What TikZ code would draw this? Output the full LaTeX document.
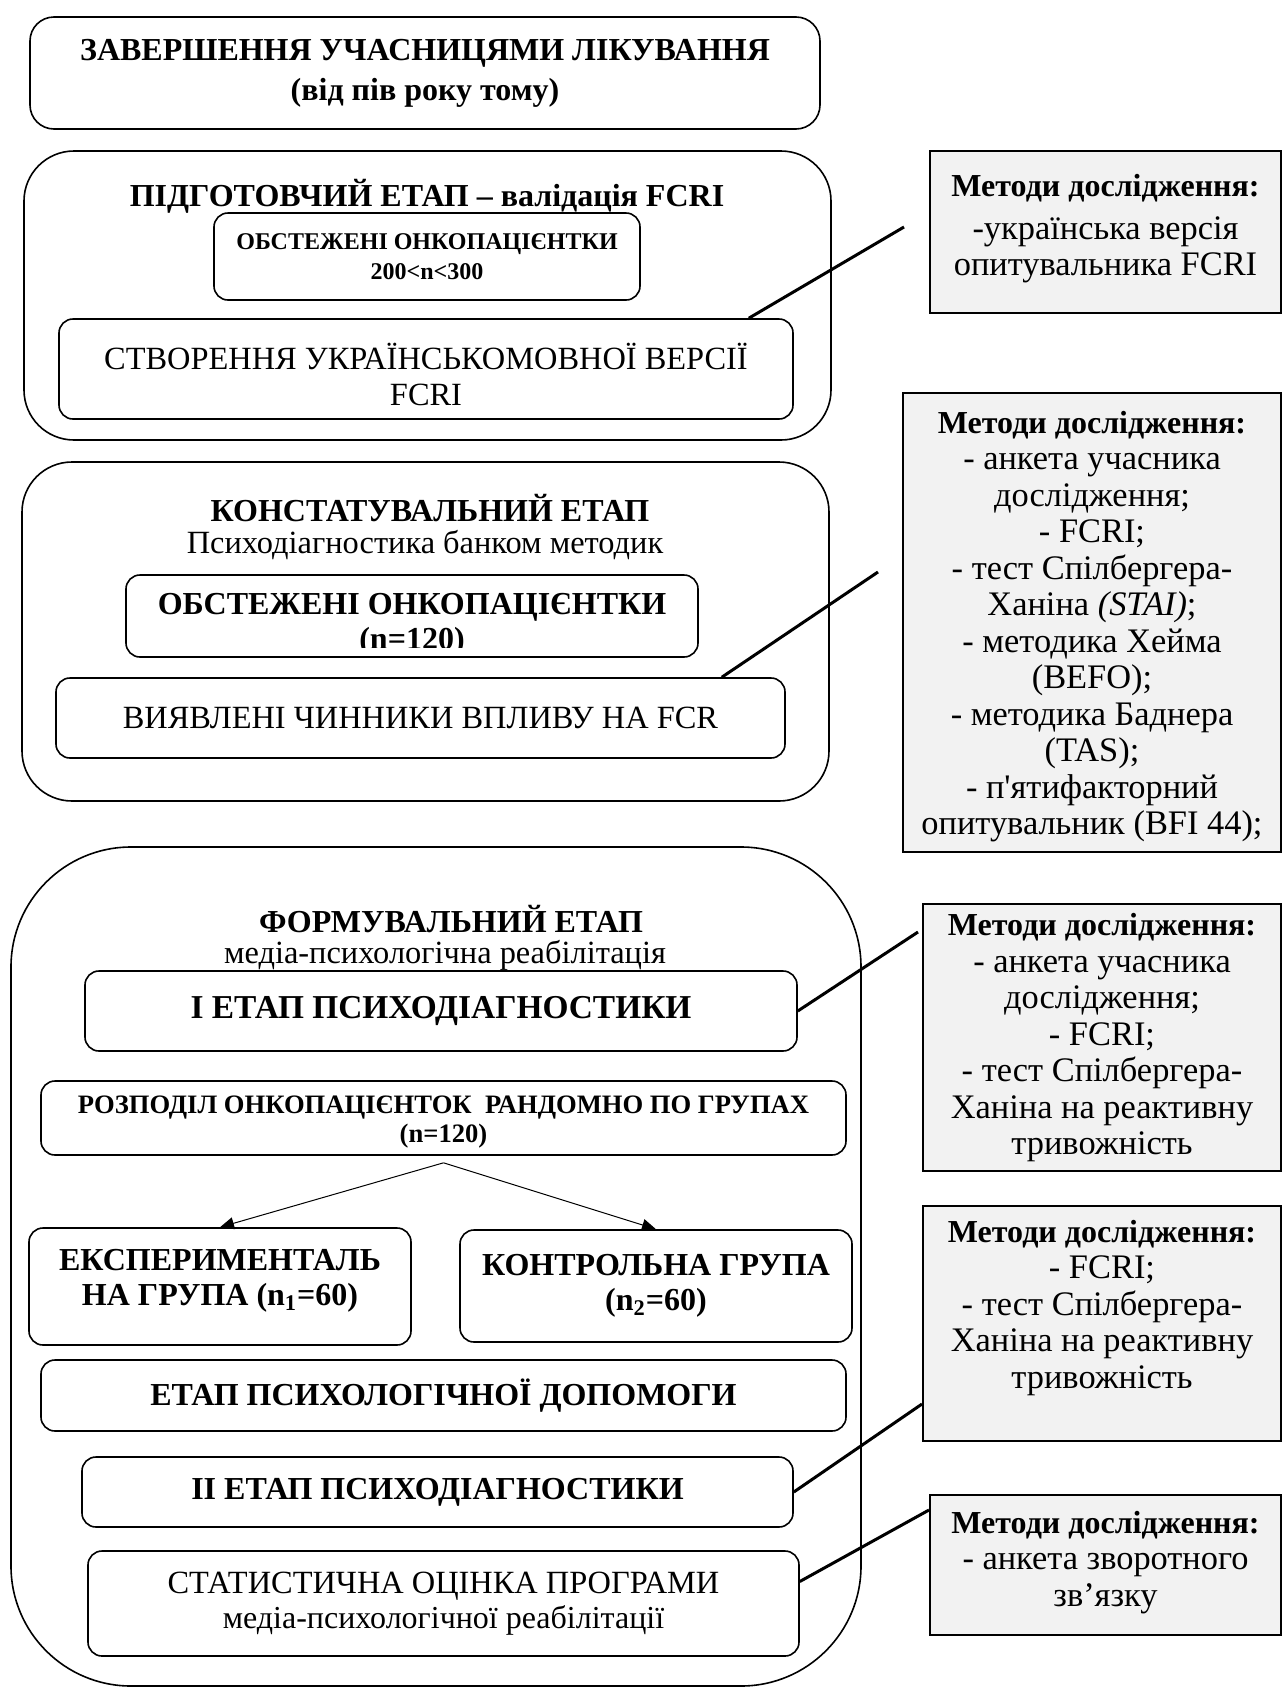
\documentclass[tikz,border=0pt]{standalone}
\usepackage{fontspec}
\setmainfont{Liberation Serif}[Ligatures=TeXOff]
\usetikzlibrary{positioning,calc,arrows.meta}
\definecolor{methodgray}{RGB}{242,242,242}

\newcommand{\headfont}{\fontsize{16}{20}\selectfont\bfseries}
\newcommand{\pairfont}{\fontsize{16}{17.3}\selectfont\bfseries}
\newcommand{\plainfont}{\fontsize{16.2}{18}\selectfont}
\newcommand{\midbold}{\fontsize{13.3}{14.5}\selectfont\bfseries}
\newcommand{\smallbold}{\fontsize{12}{15}\selectfont\bfseries}
\newcommand{\listfont}{\fontsize{17.2}{18.25}\selectfont}

\begin{document}
\begin{tikzpicture}[x=0.5pt,y=-0.5pt,
  stagebox/.style={draw,line width=0.8pt},
  stepbox/.style={draw,rounded corners=7pt,line width=0.8pt,align=center,inner sep=0pt},
  methodbox/.style={draw,fill=methodgray,line width=1pt,inner sep=0pt},
  methodtext/.style={align=center,inner sep=0pt,font=\listfont},
  link/.style={line width=1.5pt},
  split/.style={line width=0.5pt,-{Triangle[length=7pt,width=6pt]}}]
  \useasboundingbox (0,0) rectangle (1282,1692);

  % finished treatment
  \node[stepbox,rounded corners=12pt,minimum width=395pt,minimum height=56pt,font=\headfont] (finish) at (425,73) {ЗАВЕРШЕННЯ УЧАСНИЦЯМИ ЛІКУВАННЯ\\(від пів року тому)};

  % preparatory stage
  \node[stagebox,rounded corners=25pt,minimum width=403.5pt,minimum height=144.5pt] (prep) at (427.5,295.5) {};
  \node[font=\headfont] (preptitle) at (427,196) {ПІДГОТОВЧИЙ ЕТАП – валідація FCRI};
  \node[stepbox,minimum width=213pt,minimum height=43.5pt,font=\smallbold] (prepsample) at (427,256.5) {ОБСТЕЖЕНІ ОНКОПАЦІЄНТКИ\\200<n<300};
  \node[stepbox,minimum width=367pt,minimum height=50pt,font=\plainfont] (create) at (426,369) {};
  \node[font=\plainfont,align=center] (createtext) at (426,374) {СТВОРЕННЯ УКРАЇНСЬКОМОВНОЇ ВЕРСІЇ\\FCRI};

  % ascertaining stage
  \node[stagebox,rounded corners=25pt,minimum width=403.5pt,minimum height=169.5pt] (ascert) at (425.5,631.5) {};
  \node[font=\headfont] (ascerttitle) at (430,508) {КОНСТАТУВАЛЬНИЙ ЕТАП};
  \node[font=\plainfont] (ascertsub) at (425,545) {Психодіагностика банком методик};
  \node[stepbox,minimum width=286pt,minimum height=41pt] (ascertsample) at (412,616) {};
  \begin{scope}
    \clip (ascertsample.north west) rectangle ($(ascertsample.south east)+(0,-10)$);
    \node[font=\pairfont,align=center] (ascertsampletext) at (412,625) {ОБСТЕЖЕНІ ОНКОПАЦІЄНТКИ\\(n=120)};
  \end{scope}
  \node[stepbox,minimum width=364.5pt,minimum height=40pt,font=\plainfont] (factors) at (420.5,718) {ВИЯВЛЕНІ ЧИННИКИ ВПЛИВУ НА FCR};

  % formative stage
  \node[stagebox,rounded corners=60pt,minimum width=425pt,minimum height=419.5pt] (form) at (436,1266.5) {};
  \node[font=\headfont] (formtitle) at (451,919) {ФОРМУВАЛЬНИЙ ЕТАП};
  \node[font=\plainfont] (formsub) at (445,955) {медіа-психологічна реабілітація};
  \node[stepbox,minimum width=356pt,minimum height=40pt,font=\fontsize{16.7}{20}\selectfont\bfseries] (diag1) at (441,1011) {І ЕТАП ПСИХОДІАГНОСТИКИ};
  \node[stepbox,minimum width=402.5pt,minimum height=37pt,font=\midbold] (random) at (443.5,1118) {};
  \node[font=\midbold,align=center] (randomtext) at (443.5,1122) {РОЗПОДІЛ ОНКОПАЦІЄНТОК\ \ РАНДОМНО ПО ГРУПАХ\\(n=120)};
  \node[stepbox,minimum width=191pt,minimum height=58.5pt] (expgroup) at (220,1286.5) {};
  \node[font=\pairfont,align=center] (expgrouptext) at (220,1281) {ЕКСПЕРИМЕНТАЛЬ\\НА ГРУПА (n\textsubscript{1}=60)};
  \node[stepbox,minimum width=196pt,minimum height=56pt,font=\pairfont] (ctrlgroup) at (656,1286) {КОНТРОЛЬНА ГРУПА\\(n\textsubscript{2}=60)};
  \node[stepbox,minimum width=402.5pt,minimum height=35.5pt,font=\headfont] (help) at (443.5,1395.5) {ЕТАП ПСИХОЛОГІЧНОЇ ДОПОМОГИ};
  \node[stepbox,minimum width=355.5pt,minimum height=35pt,font=\headfont] (diag2) at (437.5,1492) {ІІ ЕТАП ПСИХОДІАГНОСТИКИ};
  \node[stepbox,minimum width=355.5pt,minimum height=52.5pt,font=\fontsize{16.2}{17.3}\selectfont] (stats) at (443.5,1603.5) {СТАТИСТИЧНА ОЦІНКА ПРОГРАМИ\\{\fontsize{16}{17.3}\selectfont медіа-психологічної реабілітації}};

  \coordinate (fork) at ($(random.south)+(0,7)$);
  \draw[split] (fork) -- (expgroup.north);
  \draw[split] (fork) -- (ctrlgroup.north);

  % research methods
  \node[methodbox,minimum width=175.5pt,minimum height=81pt] (m1) at (1105.5,232) {};
  \node[methodtext,below=12pt of m1.north] (m1text) {\textbf{\fontsize{16}{18}\selectfont Методи дослідження:}\\[3pt]-українська версія\\опитувальника FCRI};
  \node[methodbox,minimum width=189pt,minimum height=229.5pt] (m2) at (1092,622.5) {};
  \node[methodtext,below=9.4pt of m2.north] (m2text) {\textbf{\fontsize{16}{18}\selectfont Методи дослідження:}\\- анкета учасника\\дослідження;\\- FCRI;\\- тест Спілбергера-\\Ханіна \textit{(STAI)};\\- методика Хейма\\(BEFO);\\- методика Баднера\\(TAS);\\- п'ятифакторний\\опитувальник (BFI 44);};
  \node[methodbox,minimum width=179pt,minimum height=133.5pt] (m3) at (1102,1037.5) {};
  \node[methodtext,below=5pt of m3.north] (m3text) {\textbf{\fontsize{16}{18}\selectfont Методи дослідження:}\\- анкета учасника\\дослідження;\\- FCRI;\\- тест Спілбергера-\\Ханіна на реактивну\\тривожність};
  \node[methodbox,minimum width=179pt,minimum height=117.5pt] (m4) at (1102,1323.5) {};
  \node[methodtext,below=7.4pt of m4.north] (m4text) {\textbf{\fontsize{16}{18}\selectfont Методи дослідження:}\\- FCRI;\\- тест Спілбергера-\\Ханіна на реактивну\\тривожність};
  \node[methodbox,minimum width=175.5pt,minimum height=70pt] (m5) at (1105.5,1565) {};
  \node[methodtext,below=8.4pt of m5.north] (m5text) {\textbf{\fontsize{16}{18}\selectfont Методи дослідження:}\\- анкета зворотного\\зв’язку};

  % links to methods
  \coordinate (m1tip) at (904,227);
  \coordinate (m2tip) at (878,572);
  \draw[link] ($(create.north east)+(-45,0)$) -- (m1tip);
  \draw[link] ($(factors.north east)+(-64,0)$) -- (m2tip);
  \draw[link] (diag1.east) -- ($(m3.north west)+(-4,29)$);
  \draw[link] (diag2.east) -- ($(m4.south west)+(0,-38)$);
  \draw[link] ($(stats.east)+(0,-22)$) -- ($(m5.north west)+(0,16)$);
\end{tikzpicture}
\end{document}
